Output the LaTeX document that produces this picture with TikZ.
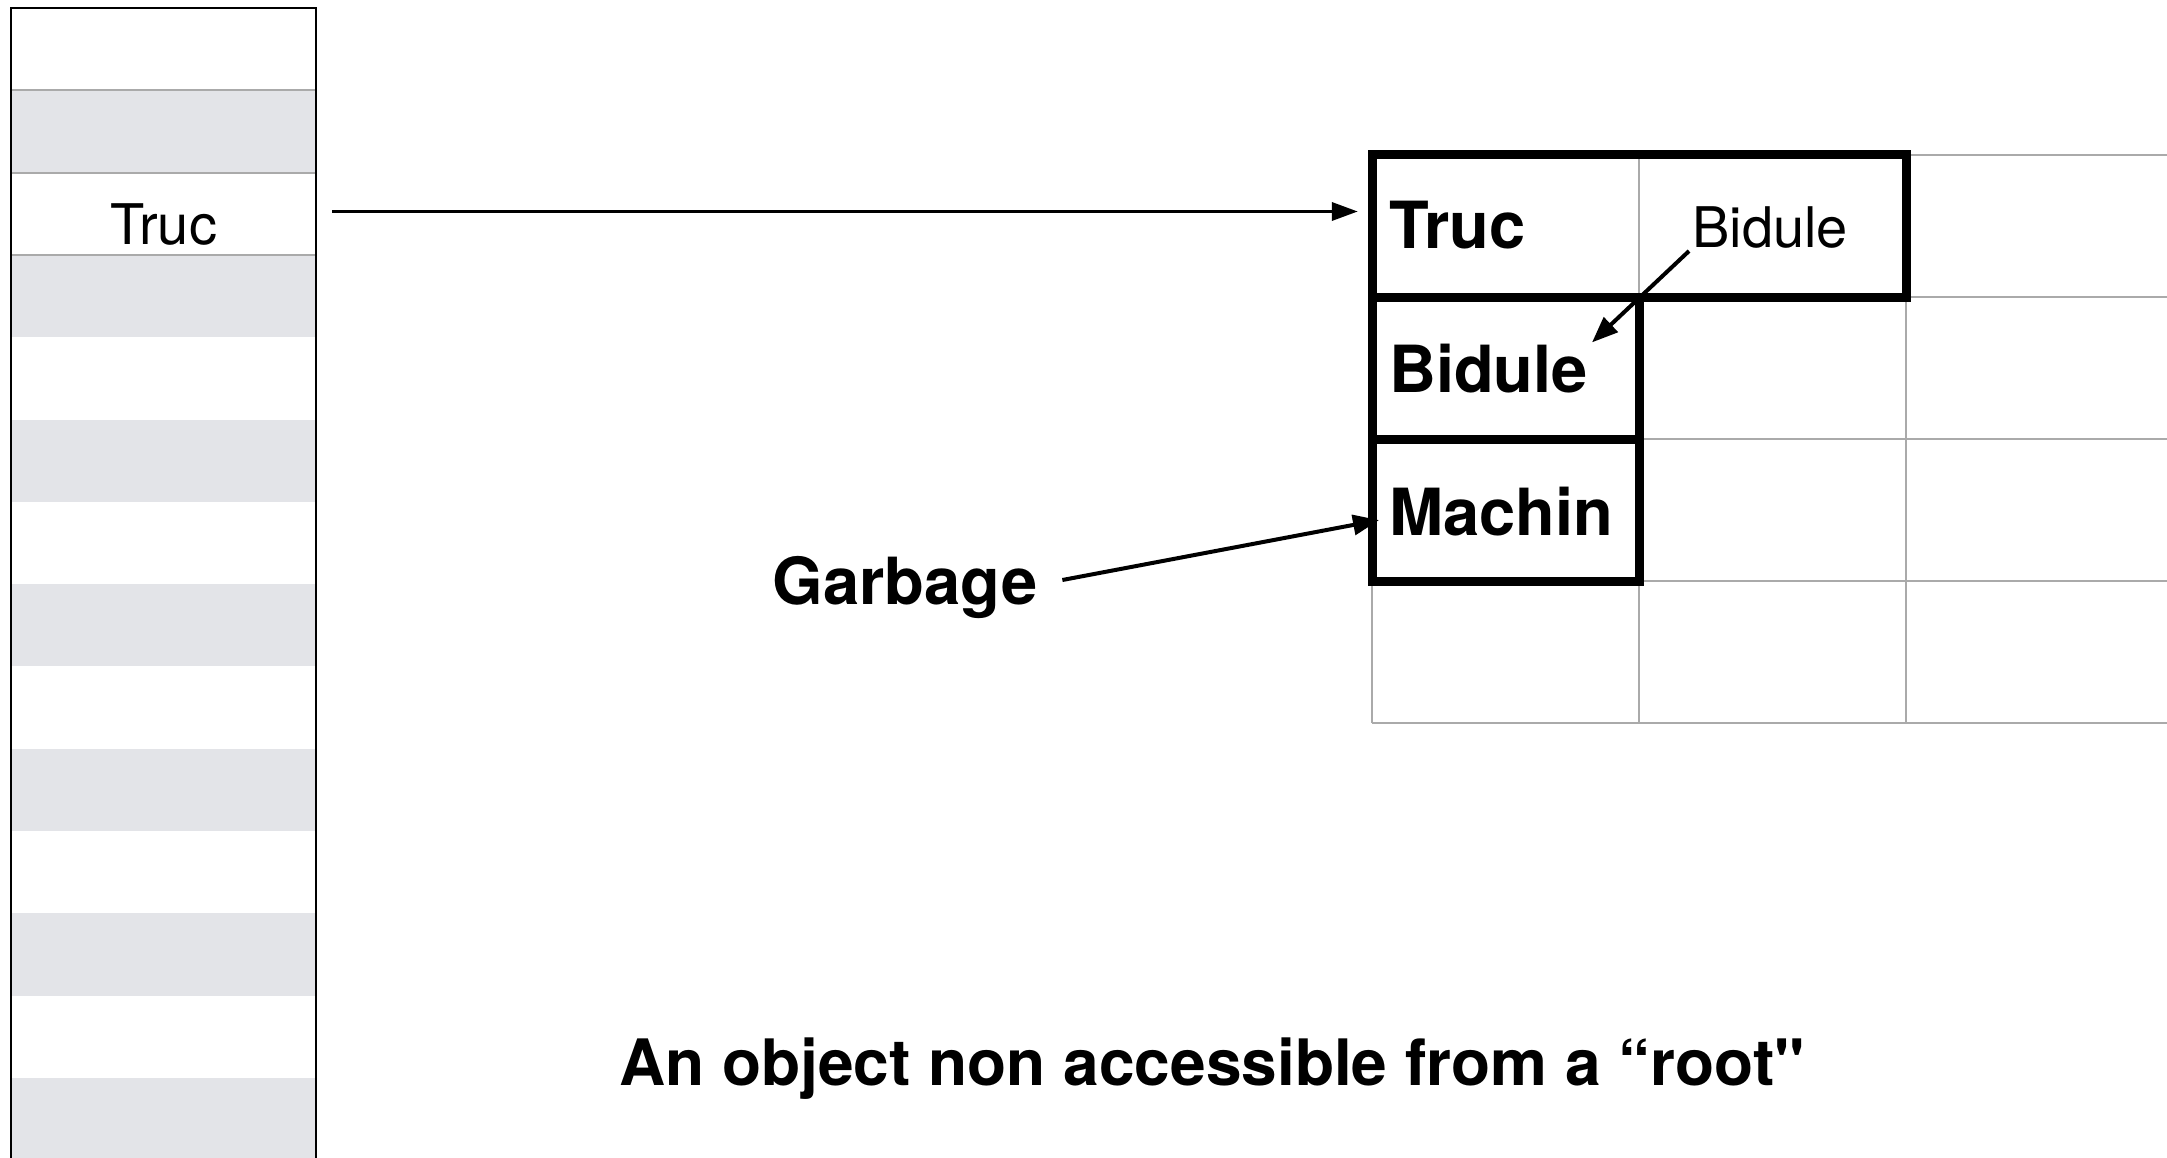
\documentclass[tikz,border=0pt]{standalone}
\usepackage{fontspec}
\setmainfont{TeX Gyre Heros}[Ligatures=TeXOff]
\usetikzlibrary{arrows.meta}
\definecolor{stripegray}{HTML}{E3E4E8}
\definecolor{gridgray}{HTML}{AAAAAA}
\begin{document}
\begin{tikzpicture}[x=1pt,y=-1pt,
  stripe/.style={fill=stripegray, draw=none},
  sepline/.style={draw=gridgray, line width=2pt},
  gridline/.style={draw=gridgray, line width=2pt},
  thickbox/.style={draw=black, line width=9pt},
  cell/.style={draw=none, inner sep=0pt, minimum width=267pt, minimum height=142pt},
  lbl/.style={font=\fontsize{56}{60}\selectfont, inner sep=0pt},
  blbl/.style={font=\fontsize{65}{70}\selectfont\bfseries, inner sep=0pt},
  ptr/.style={-{Triangle[length=26pt,width=18pt]}, line width=3.5pt},
  bptr/.style={-{Triangle[length=26pt,width=20pt]}, line width=4pt},
]
\useasboundingbox (0,0) rectangle (2167,1158);

% ---- memory column (stack) ----
\foreach \i in {1,3,...,13}
  \fill[stripe] (11,{8+\i*82.3}) rectangle (316,{8+(\i+1)*82.3});
\foreach \i in {1,2,3}
  \draw[sepline] (11,{8+\i*82.3}) -- (316,{8+\i*82.3});
\draw[line width=2.5pt] (11,1170) -- (11,8) -- (316,8) -- (316,1170);
\node[inner sep=0pt, minimum width=305pt, minimum height=82.3pt] (truccell) at (163.5,211.5) {};
\node[lbl, anchor=base] (truccol) at (163.5,244) {Truc};

% ---- heap grid ----
\foreach \x in {1372,1639,1906}
  \draw[gridline] (\x,155) -- (\x,723);
\foreach \y in {155,297,439,581,723}
  \draw[gridline] (1372,\y) -- (2180,\y);

% cells of the objects
\node[cell] (tcell) at (1505.5,226) {};
\node[cell] (bcell) at (1505.5,368) {};
\node[cell] (mcell) at (1505.5,510) {};

% thick outlines of the objects
\draw[thickbox] (1372,155) rectangle (1906,297);
\draw[thickbox] (1372,297) rectangle (1639,439);
\draw[thickbox] (1372,439) rectangle (1639,581);

% labels
\node[blbl, anchor=base west] (trucb) at (1389,249) {Truc};
\node[lbl, anchor=base west] (bidref) at (1692,248) {Bidule};
\node[blbl, anchor=base west] (bidb) at (1389,392) {Bidule};
\node[blbl, anchor=base west] (machin) at (1389,535) {Machin};
\node[blbl, anchor=base] (garb) at (905,604) {Garbage};
\node[blbl, font=\fontsize{64}{70}\selectfont\bfseries, anchor=base] (caption) at (1212,1085)
  {An object non accessible from a “root"};

% ---- pointers ----
\draw[ptr, shorten <=16pt, shorten >=14pt] (truccell.east) -- (truccell.east -| tcell.west);
\draw[bptr] ([xshift=-3pt,yshift=-2pt]bidref.south west) -- ([xshift=4pt,yshift=1pt]bidb.north east);
\draw[bptr] ([xshift=25pt,yshift=7pt]garb.east) -- ([xshift=-10pt,yshift=-9pt]machin.west);
\end{tikzpicture}
\end{document}
